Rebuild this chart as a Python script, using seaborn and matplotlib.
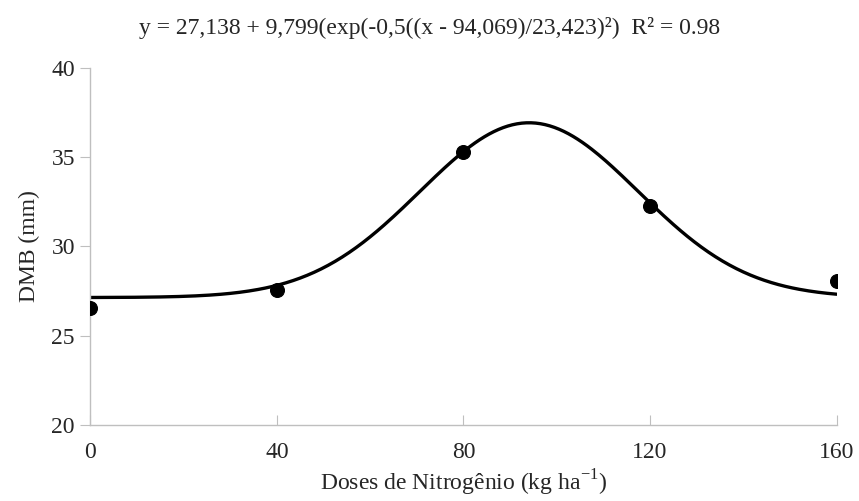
import numpy as np
import pandas as pd
import seaborn as sns
import matplotlib.pyplot as plt

# observed means
doses = [0, 40, 80, 120, 160]
dmb = [26.56, 27.58, 35.28, 32.28, 28.05]

# fitted gaussian model, parameters as printed on the chart
y0, a, x0, b = 27.138, 9.799, 94.069, 23.423
r2_text = '0.98'

sns.set_style('white')
plt.rcParams['font.family'] = ['Liberation Serif', 'DejaVu Serif']
plt.rcParams['mathtext.fontset'] = 'custom'
plt.rcParams['mathtext.rm'] = 'Liberation Serif'

xs = np.linspace(0, 160, 321)
fit = pd.DataFrame({'x': xs, 'y': y0 + a * np.exp(-0.5 * ((xs - x0) / b) ** 2)})
obs = pd.DataFrame({'x': doses, 'y': dmb})

fig = plt.figure(figsize=(8.59, 5.01), dpi=100)
ax = fig.add_axes([0.105, 0.152, 0.869, 0.712])

sns.lineplot(data=fit, x='x', y='y', ax=ax, color='black', linewidth=2.4)
sns.scatterplot(data=obs, x='x', y='y', ax=ax, color='black', s=100, edgecolor='black', zorder=3)

ax.set_xlim(0, 160)
ax.set_ylim(20, 40)
ax.set_xticks(doses)
ax.set_yticks([20, 25, 30, 35, 40])

for s in ['top', 'right']:
    ax.spines[s].set_visible(False)
for s in ['left', 'bottom']:
    ax.spines[s].set_color('#BFBFBF')
    ax.spines[s].set_linewidth(1)

ax.tick_params(axis='y', direction='out', length=7, color='#BFBFBF', labelsize=17, pad=4, left=True)
ax.tick_params(axis='x', direction='in', length=7, color='#BFBFBF', labelsize=17, pad=12, bottom=True)

ax.set_xlabel('Doses de Nitrogênio (kg ha$^{\\mathregular{-1}}$)', fontsize=17, labelpad=4)
ax.set_ylabel('DMB (mm)', fontsize=17, labelpad=8)

fig.text(0.5, 0.944, 'y = 27,138 + 9,799(exp(-0,5((x - 94,069)/23,423)²)  R² = ' + r2_text,
         ha='center', va='center', fontsize=17)

fig.savefig('out.png', dpi=100)
